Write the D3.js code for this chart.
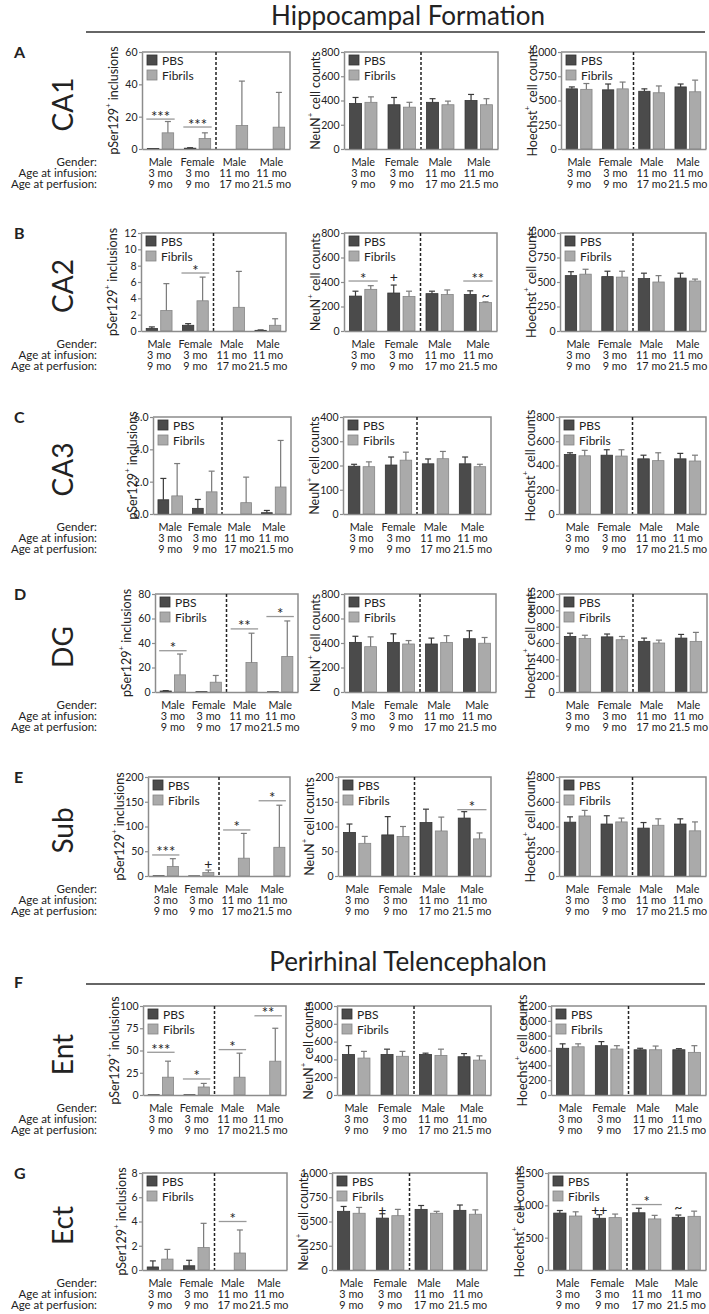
<!DOCTYPE html>
<html><head><meta charset="utf-8">
<script src="https://cdn.jsdelivr.net/npm/d3@7"></script>
<style>
body{margin:0;background:#fff}
svg{display:block}
text{font-family:Lato,'Open Sans',sans-serif;fill:#222}
</style>
</head><body><svg id="c" width="709" height="1314"></svg>
<script>
// ---------- categories ----------
const regions = ["CA1","CA2","CA3","DG","Sub","Ent","Ect"];
const rowLetters = ["A","B","C","D","E","F","G"];
const genders = ["Male","Female","Male","Male"];
const infusionAges = ["3 mo","3 mo","11 mo","11 mo"];
const perfusionAges = ["9 mo","9 mo","17 mo","21.5 mo"];
const rowHeaders = ["Gender:","Age at infusion:","Age at perfusion:"];
const seriesNames = ["PBS","Fibrils"];
const sectionTitles = ["Hippocampal Formation","Perirhinal Telencephalon"];

// ---------- tick labels ----------
const CA1_pSer_ticks = [0,20,40,60];
const CA1_NeuN_ticks = [0,200,400,600,800];
const CA1_Hoechst_ticks = [0,250,500,750,1000];
const CA2_pSer_ticks = [0,2,4,6,8,10,12];
const CA2_NeuN_ticks = [0,200,400,600,800];
const CA2_Hoechst_ticks = [0,250,500,750,1000];
const CA3_pSer_ticks = [0,2,4,6];
const CA3_NeuN_ticks = [0,100,200,300,400];
const CA3_Hoechst_ticks = [0,200,400,600,800];
const DG_pSer_ticks = [0,20,40,60,80];
const DG_NeuN_ticks = [0,200,400,600,800];
const DG_Hoechst_ticks = [0,200,400,600,800,1000,1200];
const Sub_pSer_ticks = [0,50,100,150,200];
const Sub_NeuN_ticks = [0,50,100,150,200];
const Sub_Hoechst_ticks = [0,200,400,600,800];
const Ent_pSer_ticks = [0,25,50,75,100];
const Ent_NeuN_ticks = [0,200,400,600,800,1000];
const Ent_Hoechst_ticks = [0,200,400,600,800,1000,1200];
const Ect_pSer_ticks = [0,2,4,6,8];
const Ect_NeuN_ticks = [0,250,500,750,1000];
const Ect_Hoechst_ticks = [0,500,1000,1500];

// ---------- series values (mean, SD) ----------
const CA1_pSer_PBS = [0.3,0.5,0,0];        const CA1_pSer_PBS_SD = [0,0.3,0,0];
const CA1_pSer_Fib = [10,6.5,14.5,13.5];   const CA1_pSer_Fib_SD = [7,3.5,27.5,21.5];
const CA1_NeuN_PBS = [375,365,385,400];    const CA1_NeuN_PBS_SD = [50,60,30,50];
const CA1_NeuN_Fib = [385,345,365,365];    const CA1_NeuN_Fib_SD = [45,40,30,50];
const CA1_Hoechst_PBS = [620,610,595,640]; const CA1_Hoechst_PBS_SD = [20,60,25,30];
const CA1_Hoechst_Fib = [615,620,580,590]; const CA1_Hoechst_Fib_SD = [60,70,70,120];

const CA2_pSer_PBS = [0.3,0.7,0,0.08];     const CA2_pSer_PBS_SD = [0.2,0.2,0,0.05];
const CA2_pSer_Fib = [2.5,3.7,2.9,0.7];    const CA2_pSer_Fib_SD = [3.3,2.9,4.4,0.8];
const CA2_NeuN_PBS = [285,310,305,298];    const CA2_NeuN_PBS_SD = [40,65,20,30];
const CA2_NeuN_Fib = [340,282,298,232];    const CA2_NeuN_Fib_SD = [30,43,37,6];
const CA2_Hoechst_PBS = [565,555,535,540]; const CA2_Hoechst_PBS_SD = [40,55,55,50];
const CA2_Hoechst_Fib = [580,550,500,510]; const CA2_Hoechst_Fib_SD = [50,60,65,20];

const CA3_pSer_PBS = [0.88,0.35,0,0.08];   const CA3_pSer_PBS_SD = [1.32,0.55,0,0.14];
const CA3_pSer_Fib = [1.12,1.37,0.7,1.67]; const CA3_pSer_Fib_SD = [2.0,1.28,1.58,2.88];
const CA3_NeuN_PBS = [197,202,207,207];    const CA3_NeuN_PBS_SD = [8,33,20,28];
const CA3_NeuN_Fib = [195,222,228,195];    const CA3_NeuN_Fib_SD = [20,33,30,10];
const CA3_Hoechst_PBS = [490,485,455,455]; const CA3_Hoechst_PBS_SD = [15,45,30,45];
const CA3_Hoechst_Fib = [480,478,440,437]; const CA3_Hoechst_Fib_SD = [45,52,65,48];

const DG_pSer_PBS = [0.8,0.3,0,0.2];       const DG_pSer_PBS_SD = [0.3,0,0,0];
const DG_pSer_Fib = [14,8,24,29];          const DG_pSer_Fib_SD = [17,5.5,24,29];
const DG_NeuN_PBS = [405,405,392,435];     const DG_NeuN_PBS_SD = [50,70,48,65];
const DG_NeuN_Fib = [370,392,405,398];     const DG_NeuN_Fib_SD = [80,28,55,47];
const DG_Hoechst_PBS = [680,675,620,660];  const DG_Hoechst_PBS_SD = [40,35,40,45];
const DG_Hoechst_Fib = [655,640,600,620];  const DG_Hoechst_Fib_SD = [40,40,35,110];

const Sub_pSer_PBS = [0.5,0.3,0,0];        const Sub_pSer_PBS_SD = [0,0,0,0];
const Sub_pSer_Fib = [19,7,36,58];         const Sub_pSer_Fib_SD = [16,5,50,85];
const Sub_NeuN_PBS = [88,83,108,117];      const Sub_NeuN_PBS_SD = [17,37,27,13];
const Sub_NeuN_Fib = [66,80,91,75];        const Sub_NeuN_Fib_SD = [14,20,28,12];
const Sub_Hoechst_PBS = [435,420,387,420]; const Sub_Hoechst_PBS_SD = [43,67,45,42];
const Sub_Hoechst_Fib = [485,437,410,365]; const Sub_Hoechst_Fib_SD = [45,31,52,72];

const Ent_pSer_PBS = [0.3,0.3,0,0];        const Ent_pSer_PBS_SD = [0,0,0,0];
const Ent_pSer_Fib = [20,9,20,38];         const Ent_pSer_Fib_SD = [18,4,27,37];
const Ent_NeuN_PBS = [455,455,455,430];    const Ent_NeuN_PBS_SD = [100,60,15,35];
const Ent_NeuN_Fib = [415,435,445,392];    const Ent_NeuN_Fib_SD = [75,55,70,48];
const Ent_Hoechst_PBS = [630,665,610,610]; const Ent_Hoechst_PBS_SD = [60,55,20,15];
const Ent_Hoechst_Fib = [650,620,610,575]; const Ent_Hoechst_Fib_SD = [40,45,50,90];

const Ect_pSer_PBS = [0.25,0.35,0,0];      const Ect_pSer_PBS_SD = [0.5,0.45,0,0];
const Ect_pSer_Fib = [0.9,1.85,1.4,0];     const Ect_pSer_Fib_SD = [0.8,2.0,1.9,0];
const Ect_NeuN_PBS = [605,535,625,615];    const Ect_NeuN_PBS_SD = [50,45,40,55];
const Ect_NeuN_Fib = [585,560,585,575];    const Ect_NeuN_Fib_SD = [60,65,20,45];
const Ect_Hoechst_PBS = [880,800,885,815]; const Ect_Hoechst_PBS_SD = [40,55,70,35];
const Ect_Hoechst_Fib = [835,810,790,830]; const Ect_Hoechst_Fib_SD = [65,55,55,80];

// ---------- significance marks: [region, panel, group, target, value, label] ----------
const sigMarks = [
  ["CA1",0,0,"pair",18.5,"***"], ["CA1",0,1,"pair",13.6,"***"],
  ["CA2",0,1,"pair",7.1,"*"],
  ["CA2",1,0,"pair",408,"*"], ["CA2",1,1,"PBS",445,"+"],
  ["CA2",1,3,"pair",408,"**"], ["CA2",1,3,"Fibrils",300,"~"],
  ["DG",0,0,"pair",33.7,"*"], ["DG",0,2,"pair",51.5,"**"], ["DG",0,3,"pair",61.6,"*"],
  ["Sub",0,0,"pair",42.5,"***"], ["Sub",0,1,"Fibrils",26,"+"],
  ["Sub",0,2,"pair",93,"*"], ["Sub",0,3,"pair",152,"*"],
  ["Sub",1,3,"pair",134,"*"],
  ["Ent",0,0,"pair",48,"***"], ["Ent",0,1,"pair",18,"*"],
  ["Ent",0,2,"pair",51,"*"], ["Ent",0,3,"pair",89,"**"],
  ["Ect",0,2,"pair",4.0,"*"],
  ["Ect",1,1,"PBS",625,"+"],
  ["Ect",2,1,"PBS",935,"++"], ["Ect",2,2,"pair",1012,"*"], ["Ect",2,3,"PBS",980,"~"]
];

// ---------- layout ----------
const rows = [
  {top:52,  h:97, px:[[142,290],[344,498],[561,706]]},
  {top:233, h:98, px:[[141,286],[344,497],[560,706]]},
  {top:417, h:97, px:[[153,291],[343,491],[559,706]]},
  {top:594, h:98, px:[[155,298],[344,496],[559,707]]},
  {top:777, h:99, px:[[148,290],[338,491],[559,706]]},
  {top:1006,h:89, px:[[143,286],[337,491],[551,706]]},
  {top:1173,h:97, px:[[142,287],[332,487],[548,706]]}
];
const yLabels = [["pSer129"," inclusions"],["NeuN"," cell counts"],["Hoechst"," cell counts"]];
const colors = {PBS:{fill:"#4b4b4b",stroke:"#333",err:"#3a3a3a"}, Fibrils:{fill:"#aaaaaa",stroke:"#858585",err:"#7a7a7a"}};
const frameColor = "#8c8c8c";

const data = {
  CA1:[[CA1_pSer_ticks,CA1_pSer_PBS,CA1_pSer_PBS_SD,CA1_pSer_Fib,CA1_pSer_Fib_SD],[CA1_NeuN_ticks,CA1_NeuN_PBS,CA1_NeuN_PBS_SD,CA1_NeuN_Fib,CA1_NeuN_Fib_SD],[CA1_Hoechst_ticks,CA1_Hoechst_PBS,CA1_Hoechst_PBS_SD,CA1_Hoechst_Fib,CA1_Hoechst_Fib_SD]],
  CA2:[[CA2_pSer_ticks,CA2_pSer_PBS,CA2_pSer_PBS_SD,CA2_pSer_Fib,CA2_pSer_Fib_SD],[CA2_NeuN_ticks,CA2_NeuN_PBS,CA2_NeuN_PBS_SD,CA2_NeuN_Fib,CA2_NeuN_Fib_SD],[CA2_Hoechst_ticks,CA2_Hoechst_PBS,CA2_Hoechst_PBS_SD,CA2_Hoechst_Fib,CA2_Hoechst_Fib_SD]],
  CA3:[[CA3_pSer_ticks,CA3_pSer_PBS,CA3_pSer_PBS_SD,CA3_pSer_Fib,CA3_pSer_Fib_SD],[CA3_NeuN_ticks,CA3_NeuN_PBS,CA3_NeuN_PBS_SD,CA3_NeuN_Fib,CA3_NeuN_Fib_SD],[CA3_Hoechst_ticks,CA3_Hoechst_PBS,CA3_Hoechst_PBS_SD,CA3_Hoechst_Fib,CA3_Hoechst_Fib_SD]],
  DG:[[DG_pSer_ticks,DG_pSer_PBS,DG_pSer_PBS_SD,DG_pSer_Fib,DG_pSer_Fib_SD],[DG_NeuN_ticks,DG_NeuN_PBS,DG_NeuN_PBS_SD,DG_NeuN_Fib,DG_NeuN_Fib_SD],[DG_Hoechst_ticks,DG_Hoechst_PBS,DG_Hoechst_PBS_SD,DG_Hoechst_Fib,DG_Hoechst_Fib_SD]],
  Sub:[[Sub_pSer_ticks,Sub_pSer_PBS,Sub_pSer_PBS_SD,Sub_pSer_Fib,Sub_pSer_Fib_SD],[Sub_NeuN_ticks,Sub_NeuN_PBS,Sub_NeuN_PBS_SD,Sub_NeuN_Fib,Sub_NeuN_Fib_SD],[Sub_Hoechst_ticks,Sub_Hoechst_PBS,Sub_Hoechst_PBS_SD,Sub_Hoechst_Fib,Sub_Hoechst_Fib_SD]],
  Ent:[[Ent_pSer_ticks,Ent_pSer_PBS,Ent_pSer_PBS_SD,Ent_pSer_Fib,Ent_pSer_Fib_SD],[Ent_NeuN_ticks,Ent_NeuN_PBS,Ent_NeuN_PBS_SD,Ent_NeuN_Fib,Ent_NeuN_Fib_SD],[Ent_Hoechst_ticks,Ent_Hoechst_PBS,Ent_Hoechst_PBS_SD,Ent_Hoechst_Fib,Ent_Hoechst_Fib_SD]],
  Ect:[[Ect_pSer_ticks,Ect_pSer_PBS,Ect_pSer_PBS_SD,Ect_pSer_Fib,Ect_pSer_Fib_SD],[Ect_NeuN_ticks,Ect_NeuN_PBS,Ect_NeuN_PBS_SD,Ect_NeuN_Fib,Ect_NeuN_Fib_SD],[Ect_Hoechst_ticks,Ect_Hoechst_PBS,Ect_Hoechst_PBS_SD,Ect_Hoechst_Fib,Ect_Hoechst_Fib_SD]]
};

const svg = d3.select("#c");

// section titles
const titleY = [25, 971];
const ruleY = [32, 984];
sectionTitles.forEach((t,i)=>{
  svg.append("text").attr("x",408).attr("y",titleY[i]).attr("text-anchor","middle")
    .style("font-size","26px").text(t);
  svg.append("line").attr("x1",86).attr("x2",705).attr("y1",ruleY[i]).attr("y2",ruleY[i])
    .attr("stroke","#333").attr("stroke-width",1.3);
});

const groupIdx = [0,1,2,3];
const labelDY = [12, 23, 34];

regions.forEach((reg, r) => {
  const L = rows[r];
  const bottom = L.top + L.h;
  // row letter
  svg.append("text").attr("x",14).attr("y", r===5 ? 988 : L.top+6).style("font-size","16px")
    .style("font-weight","bold").text(rowLetters[r]);
  // region name
  svg.append("text").attr("transform",`translate(${62},${L.top+L.h/2+4}) rotate(-90)`)
    .attr("text-anchor","middle").attr("dominant-baseline","central")
    .style("font-size","28px").text(reg);
  // row headers
  rowHeaders.forEach((t,k)=>{
    svg.append("text").attr("x",97).attr("y",bottom+labelDY[k]).attr("text-anchor","end")
      .attr("dominant-baseline","central").style("font-size","11.5px").text(t);
  });

  data[reg].forEach((pd, p) => {
    const [ticks, pbs, pbsSD, fib, fibSD] = pd;
    const [x0, x1] = L.px[p];
    const g = svg.append("g");
    const y = d3.scaleLinear().domain([0, ticks[ticks.length-1]]).range([bottom, L.top]);
    const x = d3.scalePoint().domain(groupIdx).range([x0, x1]).padding(0.5);
    const half = (x1-x0)*0.089;
    const inner = d3.scaleBand().domain(seriesNames).range([-half, half]).paddingInner(0.22);

    // frame (top/right)
    g.append("path").attr("d",`M${x0},${L.top}H${x1}V${bottom}`).attr("fill","none")
      .attr("stroke",frameColor).attr("stroke-width",1.5);

    // bars
    const vals = {PBS:[pbs,pbsSD], Fibrils:[fib,fibSD]};
    seriesNames.forEach(s => {
      const [m, sd] = vals[s];
      g.selectAll(null).data(groupIdx.filter(i=>m[i]>0)).enter().append("rect")
        .attr("x", i => x(i)+inner(s)).attr("width", inner.bandwidth())
        .attr("y", i => y(m[i])).attr("height", i => y(0)-y(m[i]))
        .attr("fill", colors[s].fill).attr("stroke", colors[s].stroke).attr("stroke-width",0.8);
      const eb = g.selectAll(null).data(groupIdx.filter(i=>sd[i]>0)).enter().append("g");
      eb.append("line").attr("x1", i=>x(i)+inner(s)+inner.bandwidth()/2).attr("x2", i=>x(i)+inner(s)+inner.bandwidth()/2)
        .attr("y1", i=>y(m[i])).attr("y2", i=>y(m[i]+sd[i])).attr("stroke",colors[s].err).attr("stroke-width",1.2);
      eb.append("line").attr("x1", i=>x(i)+inner(s)+inner.bandwidth()/2-3).attr("x2", i=>x(i)+inner(s)+inner.bandwidth()/2+3)
        .attr("y1", i=>y(m[i]+sd[i])).attr("y2", i=>y(m[i]+sd[i])).attr("stroke",colors[s].err).attr("stroke-width",1.2);
    });

    // dashed separator
    const xd = (x(1)+x(2))/2;
    g.append("line").attr("x1",xd).attr("x2",xd).attr("y1",L.top).attr("y2",bottom)
      .attr("stroke","#222").attr("stroke-width",1.5).attr("stroke-dasharray","3,2");

    // axes
    const ya = g.append("g").attr("transform",`translate(${x0},0)`)
      .call(d3.axisLeft(y).tickValues(ticks).tickSize(3).tickPadding(1.5).tickSizeOuter(0));
    ya.select(".domain").attr("stroke",frameColor).attr("stroke-width",1.5);
    ya.selectAll(".tick line").attr("stroke",frameColor).attr("stroke-width",1.2);
    ya.selectAll(".tick text").style("font-size","10.5px").style("font-family","Lato").attr("fill","#222");
    const xa = g.append("g").attr("transform",`translate(0,${bottom})`)
      .call(d3.axisBottom(x).tickSize(0).tickFormat(""));
    xa.select(".domain").attr("stroke",frameColor).attr("stroke-width",1.5);

    // category labels
    [genders, infusionAges, perfusionAges].forEach((arr,k)=>{
      g.selectAll(null).data(groupIdx).enter().append("text")
        .attr("x", i=>x(i)).attr("y", bottom+labelDY[k]).attr("text-anchor","middle")
        .attr("dominant-baseline","central").style("font-size","10.8px").text(i=>arr[i]);
    });

    // y label
    const digits = String(ticks[ticks.length-1]).length;
    const off = digits <= 1 ? 21 : 29;
    const yl = g.append("text").attr("transform",`translate(${x0-off},${L.top+L.h/2}) rotate(-90)`)
      .attr("text-anchor","middle").attr("dominant-baseline","central").style("font-size","12.5px");
    yl.append("tspan").text(yLabels[p][0]);
    yl.append("tspan").attr("baseline-shift","super").style("font-size","8px").text("+");
    yl.append("tspan").text(yLabels[p][1]);

    // legend
    seriesNames.forEach((s,k)=>{
      g.append("rect").attr("x",x0+5).attr("y",L.top+3+k*15).attr("width",10).attr("height",10)
        .attr("fill",colors[s].fill).attr("stroke",colors[s].stroke).attr("stroke-width",0.8);
      g.append("text").attr("x",x0+20).attr("y",L.top+8+k*15).attr("dominant-baseline","central")
        .style("font-size","12px").text(s);
    });

    // significance
    sigMarks.filter(d=>d[0]===reg && d[1]===p).forEach(d=>{
      const [, , gi, target, v, lab] = d;
      if (target === "pair") {
        const xa0 = x(gi)+inner("PBS")-1, xa1 = x(gi)+inner("Fibrils")+inner.bandwidth()+1;
        g.append("line").attr("x1",xa0).attr("x2",xa1).attr("y1",y(v)).attr("y2",y(v))
          .attr("stroke","#999").attr("stroke-width",1.3);
        g.append("text").attr("x",(xa0+xa1)/2).attr("y",y(v)+2.5).attr("text-anchor","middle")
          .style("font-size","15px").text(lab);
      } else {
        g.append("text").attr("x",x(gi)+inner(target)+inner.bandwidth()/2).attr("y",y(v))
          .attr("text-anchor","middle").attr("dominant-baseline","central")
          .style("font-size","14px").text(lab);
      }
    });
  });
});
</script></body></html>
